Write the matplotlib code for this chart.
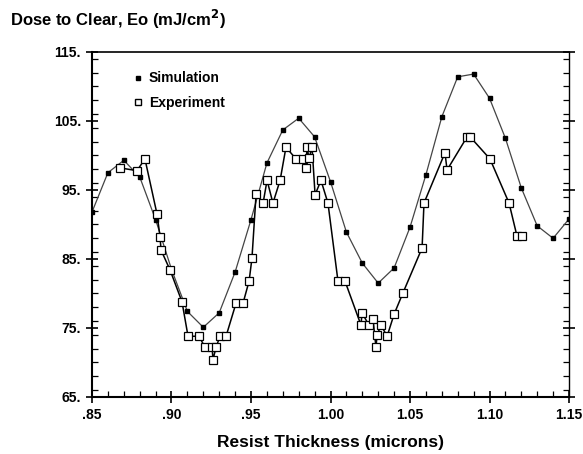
import matplotlib
matplotlib.use("Agg")
import matplotlib.pyplot as plt
from matplotlib.lines import Line2D
from matplotlib.ticker import MultipleLocator, FixedLocator

plt.rcParams['font.family'] = ['Liberation Sans', 'DejaVu Sans']

sim_x = [0.85, 0.86, 0.87, 0.88, 0.89, 0.90, 0.91, 0.92, 0.93, 0.94, 0.95,
         0.96, 0.97, 0.98, 0.99, 1.00, 1.01, 1.02, 1.03, 1.04, 1.05, 1.06,
         1.07, 1.08, 1.09, 1.10, 1.11, 1.12, 1.13, 1.14, 1.15]
sim_y = [91.8, 97.5, 99.3, 96.9, 90.7, 83.5, 77.4, 75.1, 77.2, 83.1, 90.7,
         98.9, 103.7, 105.4, 102.7, 96.2, 88.9, 84.4, 81.5, 83.7, 89.6, 97.2,
         105.6, 111.4, 111.8, 108.3, 102.5, 95.3, 89.8, 88.0, 90.8]

exp_x = [0.8676, 0.8783, 0.8833, 0.8909, 0.8928, 0.8934, 0.8991, 0.9066,
         0.9104, 0.9173, 0.9211, 0.9255, 0.9261, 0.9280, 0.9305, 0.9343,
         0.9406, 0.9450, 0.9488, 0.9506, 0.9532, 0.9576, 0.9601, 0.9638,
         0.9683, 0.9720, 0.9783, 0.9827, 0.9846, 0.9852, 0.9865, 0.9884,
         0.9903, 0.9940, 0.9984, 1.0047, 1.0091, 1.0192, 1.0198, 1.0242,
         1.0267, 1.0286, 1.0293, 1.0318, 1.0356, 1.0400, 1.0456, 1.0576,
         1.0588, 1.0720, 1.0733, 1.0859, 1.0878, 1.1003, 1.1123, 1.1173,
         1.1205]
exp_y = [98.2, 97.8, 99.5, 91.5, 88.2, 86.3, 83.4, 78.8,
         73.8, 73.8, 72.2, 72.2, 70.4, 72.2, 73.8, 73.8,
         78.6, 78.6, 81.8, 85.1, 94.4, 93.1, 96.4, 93.1,
         96.4, 101.2, 99.5, 99.5, 98.2, 101.2, 99.6, 101.2,
         94.3, 96.4, 93.1, 81.8, 81.8, 75.4, 77.2, 75.4,
         76.3, 72.2, 74.0, 75.4, 73.8, 77.0, 80.1, 86.6,
         93.1, 100.4, 97.9, 102.7, 102.7, 99.5, 93.1, 88.3,
         88.3]

x_ticks = [0.85, 0.90, 0.95, 1.00, 1.05, 1.10, 1.15]
x_labels = ['.85', '.90', '.95', '1.00', '1.05', '1.10', '1.15']
y_ticks = [65, 75, 85, 95, 105, 115]
y_labels = ['65.', '75.', '85.', '95.', '105.', '115.']

fig = plt.figure(figsize=(5.83, 4.54), dpi=100)
ax = fig.add_axes([0.1578, 0.1256, 0.976 - 0.1578, 0.8855 - 0.1256])

ax.plot(sim_x, sim_y, color='#444444', lw=0.9, marker='s', ms=2.3,
        mfc='black', mec='black', zorder=2)
ax.plot(exp_x, exp_y, color='black', lw=1.1, marker='s', ms=5.5,
        mfc='white', mec='black', mew=0.9, zorder=3)

ax.set_xlim(0.85, 1.15)
ax.set_ylim(65, 115)
ax.xaxis.set_major_locator(FixedLocator(x_ticks))
ax.set_xticklabels(x_labels)
ax.xaxis.set_minor_locator(MultipleLocator(0.01))
ax.yaxis.set_major_locator(FixedLocator(y_ticks))
ax.set_yticklabels(y_labels)
ax.yaxis.set_minor_locator(MultipleLocator(2))

ax.tick_params(axis='both', which='major', direction='inout', length=8,
               width=1.2, labelsize=10, pad=4)
ax.tick_params(axis='both', which='minor', direction='in', length=4, width=0.9)
ax.tick_params(axis='y', which='both', right=True)
ax.tick_params(axis='x', which='both', top=False)
for lab in ax.get_xticklabels() + ax.get_yticklabels():
    lab.set_fontweight('bold')

for s in ['left', 'bottom']:
    ax.spines[s].set_linewidth(1.5)
ax.spines['top'].set_linewidth(1.2)
ax.spines['right'].set_linewidth(1.0)

ax.set_xlabel('Resist Thickness (microns)', fontsize=12.5, fontweight='bold',
              labelpad=9)
fig.text(0.017, 0.958, 'Dose to Clear, Eo (mJ/cm$^{\\mathbf{2}}$)', fontsize=12,
         fontweight='bold', ha='left', va='center')

handles = [Line2D([], [], ls='none', marker='s', ms=3, mfc='black', mec='black'),
           Line2D([], [], ls='none', marker='s', ms=5, mfc='white', mec='black')]
ax.legend(handles, ['Simulation', 'Experiment'], loc='upper left',
          bbox_to_anchor=(0.058, 0.98), frameon=False, handlelength=0.8,
          handletextpad=0.4, labelspacing=0.75,
          prop={'weight': 'bold', 'size': 10})

fig.savefig('out.png', dpi=100)
